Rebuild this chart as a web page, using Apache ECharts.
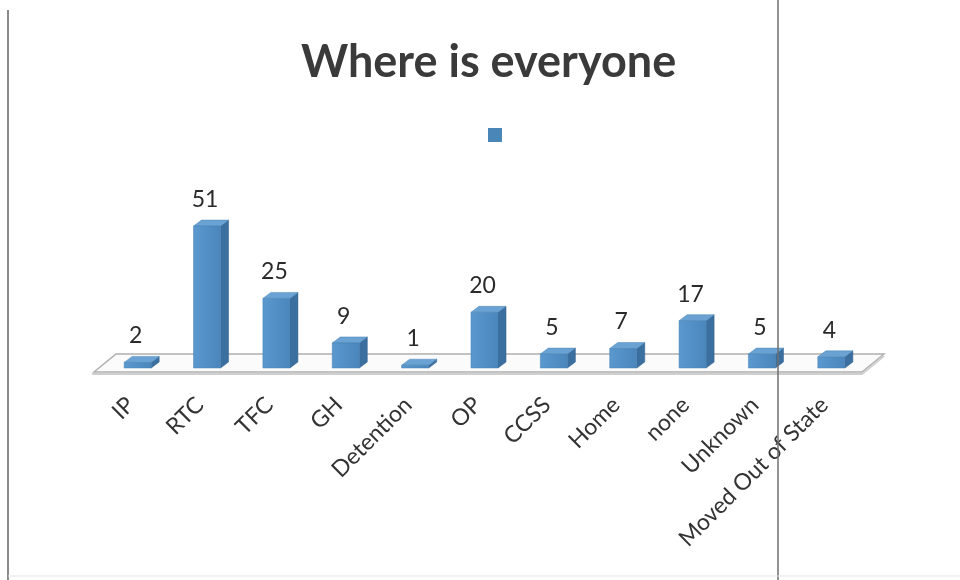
<!DOCTYPE html>
<html>
<head>
<meta charset="utf-8">
<script src="https://cdn.jsdelivr.net/npm/echarts@6/dist/echarts.min.js"></script>
<style>
html,body{margin:0;padding:0;background:#fff;}
#chart{width:960px;height:580px;}
</style>
</head>
<body>
<div id="chart"></div>
<script>
var titleText = 'Where is everyone';
var categories = ['IP', 'RTC', 'TFC', 'GH', 'Detention', 'OP', 'CCSS', 'Home', 'none', 'Unknown', 'Moved Out of State'];
var values = [2, 51, 25, 9, 1, 20, 5, 7, 17, 5, 4];
var seriesName = 'Series1';

var chart = echarts.init(document.getElementById('chart'), null, {renderer: 'canvas'});

var DX = 8, DY = -6;

function renderBar(params, api) {
  var idx = api.value(0);
  var val = api.value(1);
  var base = api.coord([idx, 0]);
  var top = api.coord([idx, val]);
  var band = api.size([1, 0])[0];
  var w = band * 0.39;
  var x0 = base[0] - w / 2, x1 = base[0] + w / 2;
  var yb = base[1], yt = top[1];
  return {
    type: 'group',
    children: [
      {
        type: 'polygon',
        shape: {points: [[x1, yb], [x1 + DX, yb + DY], [x1 + DX, yt + DY], [x1, yt]]},
        style: {fill: '#3a6f9f', stroke: '#2f5f8a', lineWidth: 0.5}
      },
      {
        type: 'polygon',
        shape: {points: [[x0, yt], [x0 + DX, yt + DY], [x1 + DX, yt + DY], [x1, yt]]},
        style: {fill: '#6aa3d3', stroke: '#4d86b8', lineWidth: 0.5}
      },
      {
        type: 'rect',
        shape: {x: x0, y: yt, width: w, height: yb - yt},
        style: {
          fill: new echarts.graphic.LinearGradient(0, 0, 1, 0, [
            {offset: 0, color: '#5a98cf'},
            {offset: 1, color: '#4a86bb'}
          ]),
          stroke: '#4680b3', lineWidth: 0.5
        }
      },
      {
        type: 'text',
        style: {
          x: base[0] - 2, y: yt + DY - 9,
          text: String(val),
          fill: '#2a2a2a',
          font: '23px Lato',
          align: 'center', verticalAlign: 'bottom'
        }
      }
    ]
  };
}

function renderFloor(params, api) {
  var first = api.coord([0, 0]);
  var last = api.coord([categories.length - 1, 0]);
  var band = api.size([1, 0])[0];
  var left = first[0] - band / 2, right = last[0] + band / 2;
  var y = first[1];
  var fl = [left - 9, y + 4], fr = [right - 4, y + 4];
  var bl = [left + 13, y - 14], br = [right + 18, y - 14];
  return {
    type: 'group',
    children: [
      {
        type: 'polygon',
        shape: {points: [fl, bl, br, fr]},
        style: {fill: '#fbfbfb', stroke: '#b0b0b0', lineWidth: 1.5}
      },
      {
        type: 'polyline',
        shape: {points: [[fl[0] - 2, fl[1] + 2], [fr[0], fr[1] + 2], [br[0], br[1] + 2]]},
        style: {fill: null, stroke: '#cfcfcf', lineWidth: 2}
      }
    ]
  };
}

var barData = values.map(function (v, i) { return [i, v]; });

var option = {
  backgroundColor: '#ffffff',
  animation: false,
  title: {
    text: titleText,
    left: 296,
    top: 35,
    textStyle: {fontFamily: 'Lato', fontWeight: 'bold', fontSize: 45, color: '#3a3a3a'}
  },
  legend: {
    data: [seriesName],
    left: 483, top: 123,
    itemWidth: 14, itemHeight: 14,
    icon: 'rect',
    formatter: function () { return ''; },
    itemGap: 0
  },
  grid: {left: 103, right: 94, top: 201, bottom: 212, containLabel: false},
  xAxis: {
    type: 'category',
    data: categories,
    axisLine: {show: false},
    axisTick: {show: false},
    axisLabel: {
      rotate: 45, interval: 0, margin: 26,
      padding: [0, 10, 0, 0],
      fontFamily: 'Lato', fontSize: 23, color: '#333'
    },
    splitLine: {show: false}
  },
  yAxis: {
    type: 'value', min: 0, max: 60, show: false,
    splitLine: {show: false}
  },
  graphic: [
    {type: 'line', shape: {x1: 8, y1: 10, x2: 8, y2: 580}, style: {stroke: '#8a8a8a', lineWidth: 2}, z: 100},
    {type: 'line', shape: {x1: 778, y1: 0, x2: 778, y2: 580}, style: {stroke: '#6f6f6f', lineWidth: 1.5}, z: 100},
    {type: 'line', shape: {x1: 8, y1: 576, x2: 960, y2: 576}, style: {stroke: '#e4e4e4', lineWidth: 1}, z: 100}
  ],
  series: [
    {
      type: 'custom',
      name: 'floor',
      renderItem: renderFloor,
      data: [[0, 0]],
      encode: {x: 0, y: 1},
      z: 1,
      silent: true
    },
    {
      type: 'custom',
      name: seriesName,
      renderItem: renderBar,
      data: barData,
      encode: {x: 0, y: 1},
      itemStyle: {color: '#4a86b8'},
      z: 2
    }
  ]
};

chart.setOption(option);
</script>
</body>
</html>
